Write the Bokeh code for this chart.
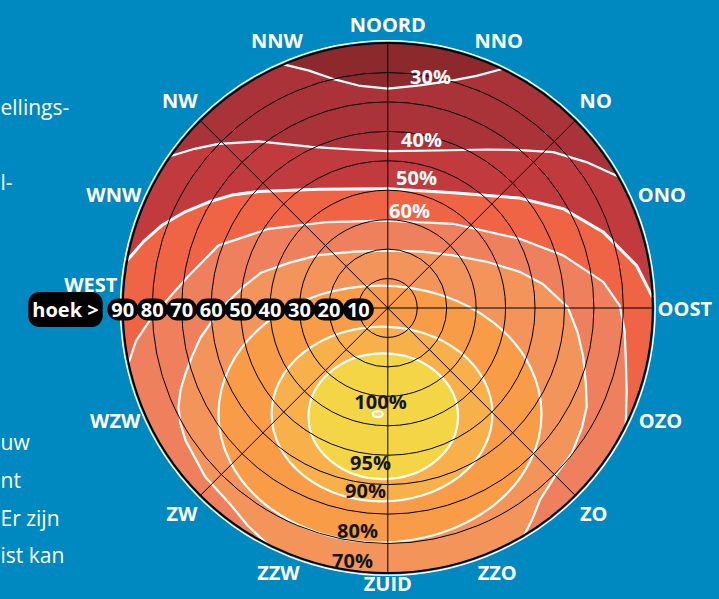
import numpy as np
from bokeh.plotting import figure
from bokeh.models import Range1d, GlobalInlineStyleSheet
from bokeh.core.properties import value
from bokeh.embed import file_html
from bokeh.resources import INLINE

# ---------------- data ----------------
ring_tilts = [10, 20, 30, 40, 50, 60, 70, 80, 90]
tick_tilts = [90, 80, 70, 60, 50, 40, 30, 20, 10]
tick_labels = ["90", "80", "70", "60", "50", "40", "30", "20", "10"]
spoke_az = [0, 45, 90, 135]

dir_names = ["NOORD", "NNO", "NO", "ONO", "OOST", "OZO", "ZO", "ZZO",
             "ZUID", "ZZW", "ZW", "WZW", "WEST", "WNW", "NW", "NNW"]
dir_az = [0, 22.5, 45, 67.5, 90, 112.5, 135, 157.5,
          180, 202.5, 225, 247.5, 270, 292.5, 315, 337.5]

# open contour lines (azimuth from north, clockwise; tilt in degrees)
c30_az = [-23.2, -18.5, -13.7, -7.5, 0, 8.2, 16.0, 20.9, 25.6]
c30_tilt = [90, 85.1, 80.2, 76.2, 74.5, 76.4, 80.4, 84.4, 90]

c40_az = [-55.0, -50.5, -45.9, -37.8, -25.3, -12.8, 0, 17.2, 31.9, 40.0, 46.7, 53.7, 60.2]
c40_tilt = [90, 85.0, 80.1, 71.6, 60.5, 55.2, 53.3, 56.0, 63.4, 70.0, 77.2, 83.7, 90]

c50_az = [-79.7, -74.8, -69.9, -64.6, -59.4, -54.1, -48.0, -30.3, 0, 29.6, 50.2,
          60.5, 70.6, 80.3, 87.7]
c50_tilt = [90, 86.0, 81.7, 76.2, 70.7, 65.4, 59.1, 46.7, 40.5, 45.0, 58.3,
            68.5, 77.6, 85.7, 90]

c60_az = [-102.0, -97.5, -92.9, -88.5, -81.3, -69.7, -56.4, -34.9, 0,
          37.8, 62.3, 73.3, 83.1, 89.4, 95.5, 101.9, 109.0, 116.1]
c60_tilt = [90, 86.3, 80.9, 75.6, 68.9, 61.3, 48.6, 35.6, 29.7,
            36.2, 50.6, 62.2, 73.7, 78.8, 80.8, 82.6, 85.8, 90]

c70_az = [-152.9, -147.2, -141.0, -132.9, -123.2, -119.1, -115.4, -111.7, -107.9,
          -103.7, -98.95, -94.1, -88.0, -81.5, -74.3, -64.9, -52.7, -31.3, 0,
          31.6, 51.2, 65.3, 74.7, 81.2, 86.6, 89.7, 97.5, 104.0, 110.7, 116.4,
          121.7, 128.2, 135.0, 141.6, 145.4, 149.0]
c70_tilt = [90, 87.9, 85.4, 84.5, 82.1, 80.6, 78.7, 75.8, 72.2,
            68.3, 64.4, 59.7, 54.5, 49.5, 44.6, 36.5, 29.6, 22.4, 19.5,
            22.5, 28.5, 37.4, 46.5, 53.3, 57.8, 61.1, 65.1, 68.4, 71.9, 75.4,
            77.5, 79.6, 80.5, 83.2, 86.7, 90]

open_levels = [30, 40, 50, 60, 70]

# closed contours (ellipses): centre azimuth/tilt, size in tilt degrees
ell_levels = [80, 90, 95, 100]
ell_az = [184.2, 183.1, 182.4, 185.4]
ell_tilt = [36.1, 36.05, 36.8, 36.2]
ell_w = [109.7, 75.0, 50.8, 3.4]
ell_h = [87.3, 59.4, 42.7, 2.0]

# ---------------- style ----------------
BG = "#0088c0"
CAP = "#8b292d"
BAND = {30: "#a93339", 40: "#c13a3e", 50: "#f06446", 60: "#ee805e",
        70: "#f3955a", 80: "#f89c47", 90: "#f8b14a", 95: "#f4d545", 100: "#f5dc5c"}
FONT = value("Open Sans")
FS = "20px"

W, H = 719, 599
K = 265 / 90.0
CX, CY = 387.3, 307.5


def pxy(az, tilt):
    a = np.radians(np.asarray(az, dtype=float))
    t = np.asarray(tilt, dtype=float)
    return t * np.sin(a), t * np.cos(a)


def px2d(xp, yp):
    return (xp - CX) / K, (CY - yp) / K


p = figure(width=W, height=H,
           x_range=Range1d(-CX / K, (W - CX) / K),
           y_range=Range1d(-(H - CY) / K, CY / K),
           output_backend="svg", toolbar_location=None,
           x_axis_type=None, y_axis_type=None, min_border=0,
           outline_line_color=None, background_fill_color=BG,
           border_fill_color=BG)
p.stylesheets = [GlobalInlineStyleSheet(
    css="html, body { margin: 0 !important; padding: 0; background: #0088c0; overflow: hidden; }")]

# full disk (below 30 %)
p.ellipse(x=[0], y=[0], width=[180], height=[180], fill_color=CAP, line_color=None)

contours = {30: (c30_az, c30_tilt), 40: (c40_az, c40_tilt), 50: (c50_az, c50_tilt),
            60: (c60_az, c60_tilt), 70: (c70_az, c70_tilt)}

for lvl in open_levels:
    az, tl = contours[lvl]
    arc = np.linspace(az[-1], az[0] + 360, 160)
    paz = np.concatenate([az, arc])
    ptl = np.concatenate([tl, np.full(arc.size, 90.0)])
    x, y = pxy(paz, ptl)
    p.patch(x, y, fill_color=BAND[lvl], line_color=None)

for lvl in open_levels:
    az, tl = contours[lvl]
    x, y = pxy(az, tl)
    p.line(x, y, line_color="white", line_width=3 if lvl == 50 else 2.2,
           line_join="round")

ex, ey = pxy(ell_az, ell_tilt)
p.ellipse(x=ex, y=ey, width=ell_w, height=ell_h,
          fill_color=[BAND[l] for l in ell_levels], line_color="white", line_width=2.2)

# grid
p.ellipse(x=[0] * 8, y=[0] * 8, width=[2 * r for r in ring_tilts[:-1]],
          height=[2 * r for r in ring_tilts[:-1]], fill_color=None,
          line_color="black", line_width=1)
sx0, sy0 = pxy(spoke_az, [90] * 4)
sx1, sy1 = pxy(np.array(spoke_az) + 180, [90] * 4)
p.segment(sx0, sy0, sx1, sy1, line_color="black", line_width=1)

# outer rim
p.ellipse(x=[0], y=[0], width=[181.6], height=[181.6], fill_color=None,
          line_color="white", line_width=1.5)
p.ellipse(x=[0], y=[0], width=[180], height=[180], fill_color=None,
          line_color="black", line_width=2)

# direction labels
dr = [(282 + 15 * abs(np.sin(np.radians(a))) + 2 * np.cos(np.radians(a))) / K for a in dir_az]
dx, dy = pxy(dir_az, dr)
dy = np.array(dy)
dy[dir_names.index("WEST")] += 8.0
dy[dir_names.index("ZUID")] += 1.6
p.text(dx, dy, text=dir_names, text_font=FONT, text_font_size=FS,
       text_font_style="bold", text_color="white", text_align="center",
       text_baseline="middle")

# tilt scale along west axis
hx, hy = px2d(65, 309)
p.text([hx], [hy], text=["hoek >"], text_font=FONT, text_font_size=FS,
       text_font_style="bold", text_color="white", text_align="center",
       text_baseline="middle", background_fill_color="black", padding=4,
       border_radius=11)
p.text([-t for t in tick_tilts], [hy] * len(tick_tilts), text=tick_labels,
       text_font=FONT, text_font_size=FS, text_font_style="bold",
       text_color="white", text_align="center", text_baseline="middle",
       background_fill_color="black", padding=4, border_radius=11)

# contour value labels
wl = ["30%", "40%", "50%", "60%"]
wpos = [px2d(430, 76), px2d(421, 139), px2d(416, 177), px2d(409, 210)]
p.text([q[0] for q in wpos], [q[1] for q in wpos], text=wl, text_font=FONT,
       text_font_size=FS, text_font_style="bold", text_color="white",
       text_align="center", text_baseline="middle")
bl = ["100%", "95%", "90%", "80%", "70%"]
bpos = [px2d(380, 401), px2d(370, 462), px2d(365, 490), px2d(357, 530), px2d(352, 560)]
p.text([q[0] for q in bpos], [q[1] for q in bpos], text=bl, text_font=FONT,
       text_font_size=FS, text_font_style="bold", text_color="#151515",
       text_align="center", text_baseline="middle")

# fragments of the surrounding article text
frag = ["ellings-", "l-", "uw", "nt", "Er zijn", "ist kan"]
fpos = [px2d(0, 106), px2d(0, 181), px2d(0, 441), px2d(0, 479), px2d(0, 517), px2d(0, 554)]
p.text([q[0] for q in fpos], [q[1] for q in fpos], text=frag, text_font=FONT,
       text_font_size="21px", text_color="white", text_align="left",
       text_baseline="middle")

open("out.html", "w").write(file_html(p, INLINE))
